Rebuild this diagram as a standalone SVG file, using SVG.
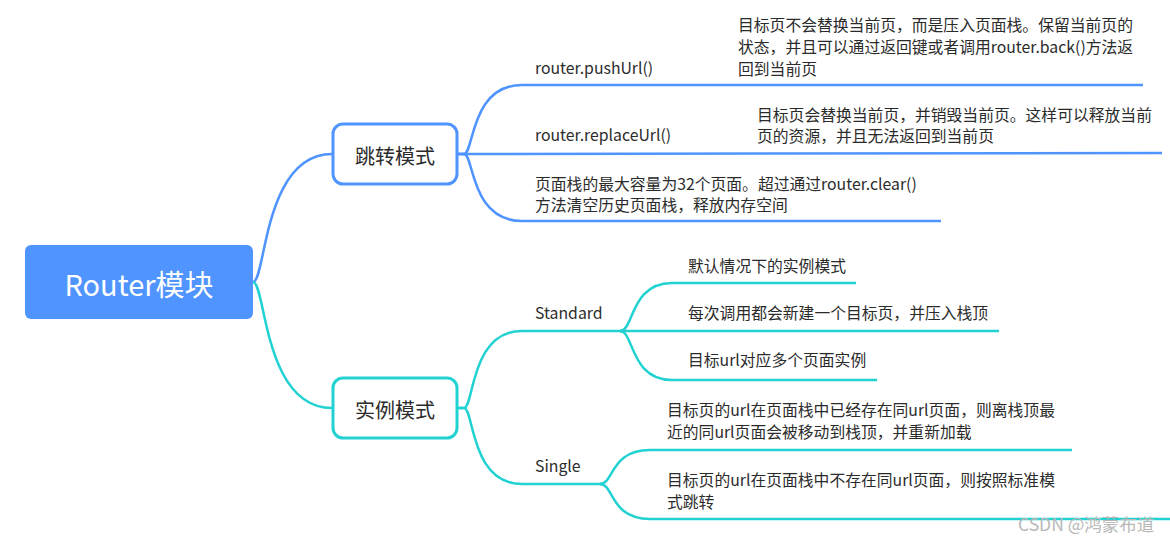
<svg xmlns="http://www.w3.org/2000/svg" width="1170" height="542" viewBox="0 0 1170 542">
<style>
text{font-family:"Noto Sans CJK SC","Noto Sans",sans-serif;fill:#2b2b2b;dominant-baseline:central}
.t{font-size:15.8px}
.b{font-size:20px;text-anchor:middle}
.blue{fill:none;stroke:#4F94FF;stroke-width:2.5}
.cyan{fill:none;stroke:#22D2D2;stroke-width:2.5}
.bbox{fill:#fff;stroke:#4F94FF;stroke-width:3}
.cbox{fill:#fff;stroke:#22D2D2;stroke-width:3}
</style>
<rect width="1170" height="542" fill="#fff"/>
<g id="connectors">
<path class="blue" d="M253,282 C266,282 263,154 332,154"/>
<path class="cyan" d="M253,282 C266,282 263,408 332,408"/>
<path class="blue" d="M458,154 L464,154 C474,154 470,85 522,85 L1143,85"/>
<path class="blue" d="M458,154 L1162,153"/>
<path class="blue" d="M458,154 L464,154 C474,154 470,221 522,221 L941,221"/>
<path class="cyan" d="M458,408 L464,408 C474,408 470,331 522,331 L622,331"/>
<path class="cyan" d="M458,408 L464,408 C474,408 470,484 522,484 L602,484"/>
<path class="cyan" d="M620,331 C634,331 630,283 672,283 L856,283"/>
<path class="cyan" d="M620,331 L999,331"/>
<path class="cyan" d="M620,331 C634,331 630,380 672,380 L877,380"/>
<path class="cyan" d="M600,484 C614,484 610,450 650,450 L1072,450"/>
<path class="cyan" d="M600,484 C614,484 610,519 650,519 L1170,519"/>
</g>
<g id="root">
<rect x="25" y="245" width="228" height="74" rx="6" fill="#4F94FF"/>
<text x="139" y="283" style="font-size:29px;fill:#fff;text-anchor:middle">Router模块</text>
</g>
<g id="jump">
<rect class="bbox" x="333" y="124" width="124" height="60" rx="10"/>
<text class="b" x="395" y="155">跳转模式</text>
</g>
<g id="instance">
<rect class="cbox" x="333" y="378" width="124" height="60" rx="10"/>
<text class="b" x="395" y="409">实例模式</text>
</g>
<g id="pushUrl">
<text class="t" x="535" y="67">router.pushUrl()</text>
</g>
<g id="pushDesc">
<text class="t" x="738" y="24">目标页不会替换当前页，而是压入页面栈。保留当前页的</text>
<text class="t" x="738" y="46">状态，并且可以通过返回键或者调用router.back()方法返</text>
<text class="t" x="738" y="68">回到当前页</text>
</g>
<g id="replaceUrl">
<text class="t" x="535" y="134">router.replaceUrl()</text>
</g>
<g id="replaceDesc">
<text class="t" x="757" y="114">目标页会替换当前页，并销毁当前页。这样可以释放当前</text>
<text class="t" x="757" y="135">页的资源，并且无法返回到当前页</text>
</g>
<g id="stackMax">
<text class="t" x="535" y="183">页面栈的最大容量为32个页面。超过通过router.clear()</text>
<text class="t" x="535" y="204">方法清空历史页面栈，释放内存空间</text>
</g>
<g id="standard">
<text class="t" x="535" y="312">Standard</text>
</g>
<g id="std1"><text class="t" x="688" y="265">默认情况下的实例模式</text></g>
<g id="std2"><text class="t" x="688" y="312">每次调用都会新建一个目标页，并压入栈顶</text></g>
<g id="std3"><text class="t" x="688" y="359">目标url对应多个页面实例</text></g>
<g id="single">
<text class="t" x="535" y="465">Single</text>
</g>
<g id="sgl1">
<text class="t" x="667" y="409">目标页的url在页面栈中已经存在同url页面，则离栈顶最</text>
<text class="t" x="667" y="431">近的同url页面会被移动到栈顶，并重新加载</text>
</g>
<g id="sgl2">
<text class="t" x="667" y="479">目标页的url在页面栈中不存在同url页面，则按照标准模</text>
<text class="t" x="667" y="501">式跳转</text>
</g>
<text x="1018" y="523" style="font-size:17.5px;fill:#b8b8b8">CSDN @鸿蒙布道</text>
</svg>
